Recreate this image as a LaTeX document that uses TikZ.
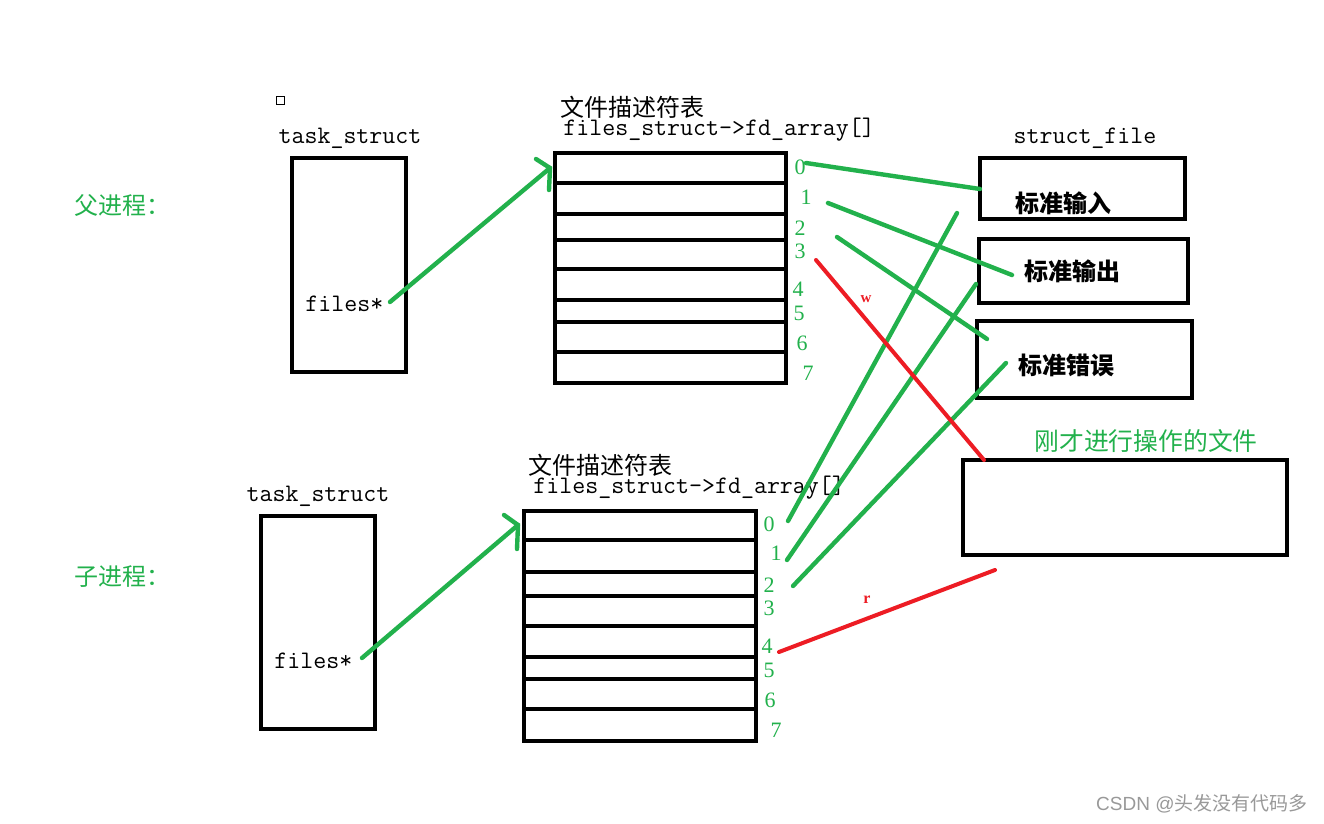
\documentclass[tikz,border=0pt]{standalone}
\usepackage{fontspec}
\setmainfont{Liberation Serif}
\newfontfamily\cjk{Noto Sans CJK SC}
\newfontfamily\wmfont{Liberation Sans}
\usetikzlibrary{fit}
\definecolor{fgreen}{HTML}{22B14C}
\definecolor{fred}{HTML}{ED1C24}
\begin{document}
\begin{tikzpicture}[x=0.5pt,y=-0.5pt,
  box/.style={draw,line width=2pt,inner sep=0pt},
  rowline/.style={line width=2pt},
  gline/.style={draw=fgreen,line width=2.2pt,line cap=round},
  rline/.style={draw=fred,line width=2pt,line cap=round},
  mono/.style={font=\fontsize{12.6}{14}\ttfamily,inner sep=0pt},
  num/.style={text=fgreen,font=\fontsize{11}{12}\selectfont,inner sep=0pt},
  cn/.style={font=\fontsize{12}{14}\cjk,inner sep=0pt},
  cnb/.style={font=\fontsize{12}{14}\cjk\bfseries,inner sep=0pt},
  gcn/.style={text=fgreen,font=\fontsize{12}{14}\cjk,inner sep=0pt},
]
\fill[white] (0,0) rectangle (1324,824);
\useasboundingbox (0,0) rectangle (1324,824);

% small square
\draw[line width=0.5pt] (276,97) rectangle (284,105);

% process labels
\node[gcn,anchor=west] (fa) at (74,205) {父进程：};
\node[gcn,anchor=west] (zi) at (74,577) {子进程：};

% ---------- parent ----------
\node[mono] (ts1lab) at (350,138) {task\_struct};
\node[box,fit={(292,158) (406,372)}] (ts1) {};
\node[mono,anchor=west] (f1) at (305,304) {files*};

\node[cn,anchor=west] (t1cn) at (560,107) {文件描述符表};
\node[mono,anchor=west] (t1en) at (563,130) {files\_struct->fd\_array[]};
\node[box,fit={(555,153) (786,383)}] (fd1) {};
\foreach \y in {183,214,240,269,300,322,352}
  \draw[rowline] (555,\y) -- (786,\y);
\node[num] (a0) at (800,167) {0};
\node[num] (a1) at (806,197) {1};
\node[num] (a2) at (800,228) {2};
\node[num] (a3) at (800,251) {3};
\node[num] (a4) at (798,289) {4};
\node[num] (a5) at (799,313) {5};
\node[num] (a6) at (802,343) {6};
\node[num] (a7) at (808,373) {7};

\coordinate (p1s) at (390,302);
\coordinate (p1e) at (550,168);
\draw[gline] (p1s) -- (p1e);
\draw[gline] (p1e) ++(-14,-9) -- (p1e) -- ++(-1,22);

% ---------- struct_file ----------
\node[mono] (sflab) at (1085,138) {struct\_file};
\node[box,fit={(980,158) (1185,219)}] (sin) {};
\node[cnb] (sinl) at (1063,203) {标准输入};
\node[box,fit={(979,239) (1188,303)}] (sout) {};
\node[cnb] (soutl) at (1072,271) {标准输出};
\node[box,fit={(977,321) (1192,398)}] (serr) {};
\node[cnb] (serrl) at (1066,365) {标准错误};

\node[text=fgreen,font=\fontsize{12.4}{14}\cjk,inner sep=0pt] (curlab) at (1146,441) {刚才进行操作的文件};
\node[box,fit={(963,460) (1287,555)}] (cur) {};

% ---------- child ----------
\node[mono] (ts2lab) at (318,496) {task\_struct};
\node[box,fit={(261,516) (375,729)}] (ts2) {};
\node[mono,anchor=west] (f2) at (274,661) {files*};

\node[cn,anchor=west] (t2cn) at (528,465) {文件描述符表};
\node[mono,anchor=west] (t2en) at (533,488) {files\_struct->fd\_array[]};
\node[box,fit={(524,511) (756,741)}] (fd2) {};
\foreach \y in {540,572,596,626,657,679,709}
  \draw[rowline] (524,\y) -- (756,\y);
\node[num] (b0) at (769,524) {0};
\node[num] (b1) at (776,553) {1};
\node[num] (b2) at (769,585) {2};
\node[num] (b3) at (769,608) {3};
\node[num] (b4) at (767,646) {4};
\node[num] (b5) at (769,670) {5};
\node[num] (b6) at (770,700) {6};
\node[num] (b7) at (776,730) {7};

\coordinate (p2s) at (362,658);
\coordinate (p2e) at (518,525);
\draw[gline] (p2s) -- (p2e);
\draw[gline] (p2e) ++(-14,-10) -- (p2e) -- ++(-1,24);

% ---------- connections ----------
\coordinate (ga0) at (806,163);  \coordinate (gin1) at (980,189);
\coordinate (ga1) at (828,203);  \coordinate (gout1) at (1012,275);
\coordinate (ga2) at (837,237);  \coordinate (gerr1) at (987,339);
\draw[gline] (ga0) -- (gin1);
\draw[gline] (ga1) -- (gout1);
\draw[gline] (ga2) -- (gerr1);

\coordinate (gb0) at (788,521);  \coordinate (gin2) at (957,213);
\coordinate (gb1) at (787,560);  \coordinate (gout2) at (976,284);
\coordinate (gb2) at (793,586);  \coordinate (gerr2) at (1006,363);
\draw[gline] (gb0) -- (gin2);
\draw[gline] (gb1) -- (gout2);
\draw[gline] (gb2) -- (gerr2);

\coordinate (ra3) at (816,260);  \coordinate (rcur1) at (984,460);
\draw[rline] (ra3) -- (rcur1);
\node[text=fred,font=\fontsize{7.5}{8}\bfseries\selectfont,inner sep=0pt] (wlab) at (866,299) {w};

\coordinate (rb4) at (779,652);  \coordinate (rcur2) at (995,570);
\draw[rline] (rb4) -- (rcur2);
\node[text=fred,font=\fontsize{8}{8}\bfseries\selectfont,inner sep=0pt] (rlab) at (867,600) {r};

% watermark
\node[text=black!40,font=\fontsize{9.5}{11}\selectfont,inner sep=0pt,anchor=east] (wm) at (1308,804) {\wmfont CSDN @\cjk 头发没有代码多};
\end{tikzpicture}
\end{document}
